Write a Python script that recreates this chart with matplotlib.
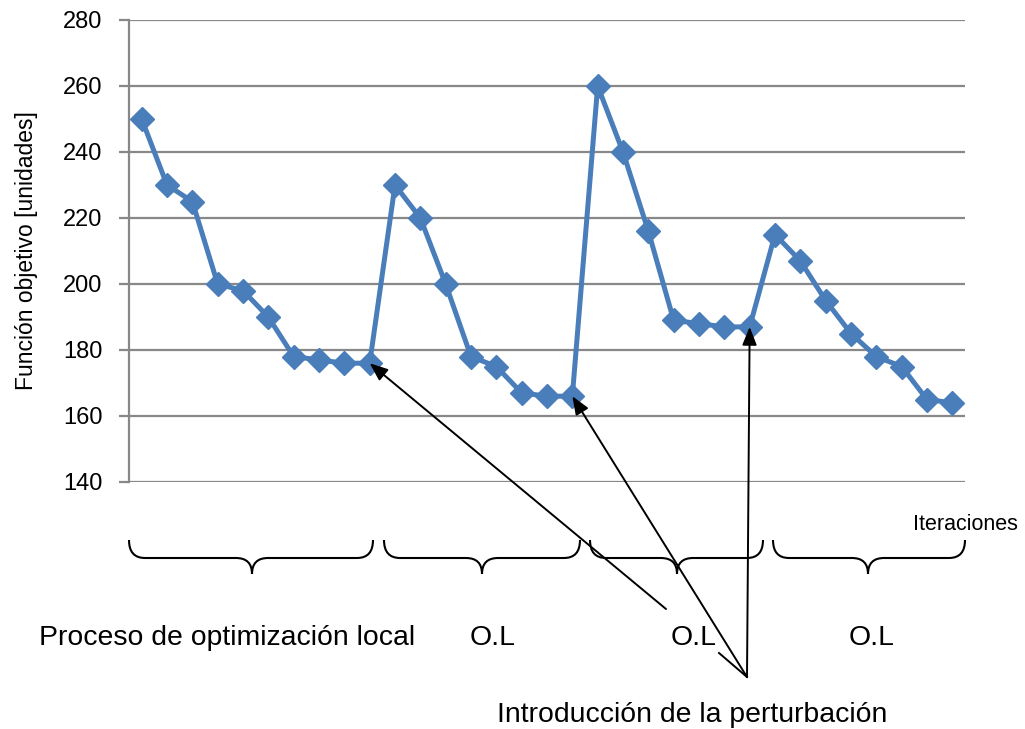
import matplotlib
matplotlib.use("Agg")
import matplotlib.pyplot as plt
from matplotlib.path import Path
from matplotlib.patches import PathPatch
from matplotlib.lines import Line2D
from matplotlib.transforms import IdentityTransform

plt.rcParams['font.family'] = ['Liberation Sans', 'DejaVu Sans']

# Objective function value at each iteration
iteraciones = list(range(33))
funcion_objetivo = [250, 230, 225, 200, 198, 190, 178, 177, 176, 176,
                    230, 220, 200, 178, 175, 167, 166, 166,
                    260, 240, 216, 189, 188, 187, 187,
                    215, 207, 195, 185, 178, 175, 165, 164]
y_ticks = [140, 160, 180, 200, 220, 240, 260, 280]
# Iterations where a perturbation is introduced
perturbaciones = [9, 17, 24]
etiquetas_grupos = ["Proceso de optimización local", "O.L", "O.L", "O.L"]

W, H = 1025, 729
fig = plt.figure(figsize=(W / 100, H / 100), dpi=100)
ax = fig.add_axes([129 / W, 1 - 482 / H, 836 / W, 462 / H])

blue = '#4A7EBB'
grid_gray = '#888888'

ax.plot(iteraciones, funcion_objetivo, color=blue, lw=3.6, marker='D',
        markersize=12.5, markerfacecolor=blue, markeredgecolor=blue, zorder=3)

ax.set_xlim(-0.5, len(iteraciones) - 0.5)
ax.set_ylim(140, 280)
ax.set_yticks(y_ticks)
ax.set_yticklabels([str(v) for v in y_ticks], fontsize=17)
ax.set_xticks([])
ax.grid(axis='y', color=grid_gray, lw=1.6)
ax.set_axisbelow(True)
for side in ('top', 'right', 'bottom'):
    ax.spines[side].set_visible(False)
ax.spines['left'].set_color(grid_gray)
ax.spines['left'].set_linewidth(1.6)
ax.tick_params(axis='y', length=7, width=1.6, color=grid_gray, pad=12)
ax.set_ylabel("Función objetivo [unidades]", fontsize=16.5, labelpad=18)

ident = IdentityTransform()


def px(x, y):
    """Pixel position measured from the top-left corner."""
    return (x, H - y)


# Curly braces grouping the local optimisation phases
def brace(x0, x1, xm, ytop, yh, ytip, r=16):
    verts = [px(x0, ytop), px(x0, yh), px(x0 + r, yh),
             px(xm - r, yh), px(xm, yh), px(xm, ytip),
             px(xm, yh), px(xm + r, yh),
             px(x1 - r, yh), px(x1, yh), px(x1, ytop)]
    codes = [Path.MOVETO, Path.CURVE3, Path.CURVE3,
             Path.LINETO, Path.CURVE3, Path.CURVE3,
             Path.CURVE3, Path.CURVE3,
             Path.LINETO, Path.CURVE3, Path.CURVE3]
    fig.patches.append(PathPatch(Path(verts, codes), transform=ident,
                                 fill=False, lw=1.5, color='black'))


brace_spans = [(129, 373, 252), (384, 580, 482), (590, 763, 677), (773, 965, 868)]
for x0, x1, xm in brace_spans:
    brace(x0, x1, xm, 540, 558, 574)

label_x = [227, 493, 694, 872]
for lx, txt in zip(label_x, etiquetas_grupos):
    fig.text(lx / W, 1 - 638 / H, txt, fontsize=20.4, ha='center', va='center')

fig.text(965 / W, 1 - 524 / H, "Iteraciones", fontsize=15.5,
         ha='center', va='center')
fig.text(692 / W, 1 - 715 / H, "Introducción de la perturbación",
         fontsize=20.4, ha='center', va='center')

# Arrows from the caption to each perturbation point
conv = px(747, 677)
arrow_kw = dict(arrowstyle='-|>,head_length=0.55,head_width=0.22',
                mutation_scale=20, color='black', lw=1.4,
                shrinkA=0, shrinkB=0)
starts = [px(666, 609), conv, conv]
for it, start in zip(perturbaciones, starts):
    ax.annotate('', xy=(it, funcion_objetivo[it]), xycoords='data',
                xytext=start, textcoords='figure pixels',
                arrowprops=dict(arrow_kw), zorder=5,
                annotation_clip=False)
fig.lines.append(Line2D([719, conv[0]], [H - 653, conv[1]], transform=ident,
                        color='black', lw=1.4))

fig.savefig('out.png', dpi=100)
